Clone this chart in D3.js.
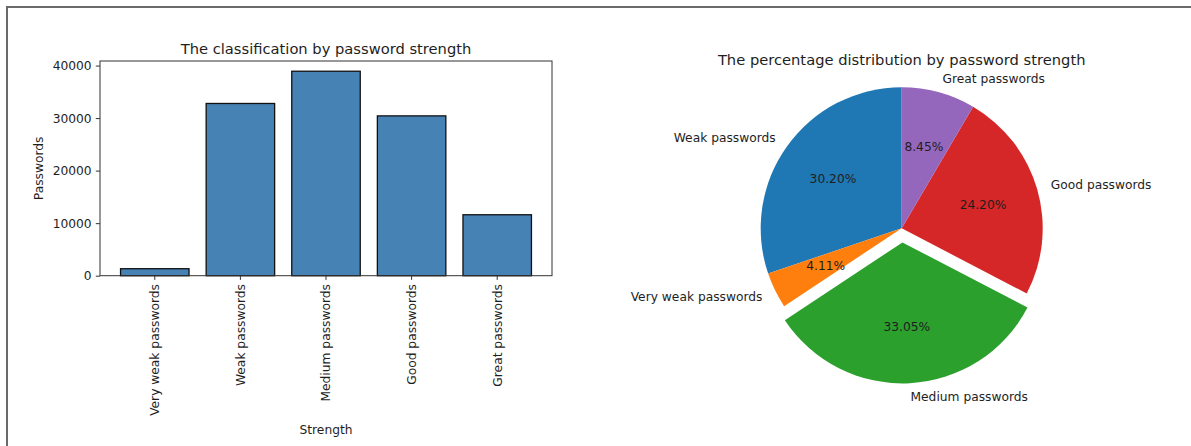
<!DOCTYPE html>
<html>
<head>
<meta charset="utf-8">
<script src="https://cdn.jsdelivr.net/npm/d3@7"></script>
<style>
  html, body { margin: 0; padding: 0; background: #fff; }
  svg { display: block; }
  text { font-family: "DejaVu Sans", sans-serif; fill: #1e1e1e; }
</style>
</head>
<body>
<svg id="chart" width="1191" height="446"></svg>
<script>
// ---- Data ----
const barCategories = ["Very weak passwords", "Weak passwords", "Medium passwords", "Good passwords", "Great passwords"];
const barValues = [1330, 32780, 38920, 30420, 11600];
const yTicks = [0, 10000, 20000, 30000, 40000];

const pieLabels = ["Weak passwords", "Very weak passwords", "Medium passwords", "Good passwords", "Great passwords"];
const piePercents = [30.20, 4.11, 33.05, 24.20, 8.45];
const pieExplode = [0, 0, 0.1, 0, 0];
const pieColors = ["#1f77b4", "#ff7f0e", "#2ca02c", "#d62728", "#9467bd"];

const FS = 12.25, TFS = 14.7;
const svg = d3.select("#chart");

// ---- Frame ----
svg.append("line").attr("x1", 6).attr("x2", 1191).attr("y1", 7).attr("y2", 7)
  .attr("stroke", "#6a6a6a").attr("stroke-width", 2);
svg.append("line").attr("x1", 7).attr("x2", 7).attr("y1", 6).attr("y2", 446)
  .attr("stroke", "#6a6a6a").attr("stroke-width", 2);

// ---- Bar chart ----
const ax = { left: 100, right: 552, top: 61, bottom: 275.7 };
const x = d3.scaleBand().domain(barCategories).range([ax.left, ax.right])
  .paddingInner(0.2).paddingOuter(0.24);
const y = d3.scaleLinear().domain([0, d3.max(barValues) * 1.05]).range([ax.bottom, ax.top]);

const gBar = svg.append("g");
gBar.selectAll("rect.bar").data(barCategories).join("rect")
  .attr("class", "bar")
  .attr("x", d => x(d))
  .attr("width", x.bandwidth())
  .attr("y", (d, i) => y(barValues[i]))
  .attr("height", (d, i) => y(0) - y(barValues[i]))
  .attr("fill", "#4682b4")
  .attr("stroke", "#111")
  .attr("stroke-width", 1.3);

const yAxis = gBar.append("g").attr("transform", `translate(${ax.left},0)`)
  .call(d3.axisLeft(y).tickValues(yTicks).tickFormat(d3.format("d")).tickSize(4.2).tickPadding(4.2));
yAxis.select(".domain").remove();
yAxis.selectAll("text").attr("font-size", FS).style("font-family", "DejaVu Sans").attr("fill", "#1e1e1e");
yAxis.selectAll("line").attr("stroke", "#333");

const xAxis = gBar.append("g").attr("transform", `translate(0,${ax.bottom})`)
  .call(d3.axisBottom(x).tickSize(4.2).tickPadding(4.2));
xAxis.select(".domain").remove();
xAxis.selectAll("line").attr("stroke", "#333");
xAxis.selectAll("text")
  .attr("font-size", FS).style("font-family", "DejaVu Sans").attr("fill", "#1e1e1e")
  .attr("transform", "rotate(-90)")
  .attr("text-anchor", "end")
  .attr("x", -8.4).attr("y", 0).attr("dy", "0.35em");

gBar.append("rect")
  .attr("x", ax.left).attr("y", ax.top)
  .attr("width", ax.right - ax.left).attr("height", ax.bottom - ax.top)
  .attr("fill", "none").attr("stroke", "#333").attr("stroke-width", 1);

gBar.append("text").attr("x", (ax.left + ax.right) / 2).attr("y", 53.5)
  .attr("text-anchor", "middle").attr("font-size", TFS)
  .text("The classification by password strength");
gBar.append("text").attr("x", (ax.left + ax.right) / 2).attr("y", 430)
  .attr("text-anchor", "middle").attr("dominant-baseline", "central").attr("font-size", FS)
  .text("Strength");
gBar.append("text")
  .attr("transform", `translate(39,${(ax.top + ax.bottom) / 2}) rotate(-90)`)
  .attr("text-anchor", "middle").attr("dominant-baseline", "central").attr("font-size", FS)
  .text("Passwords");

// ---- Pie chart ----
const cx = 901.7, cy = 228.3, R = 141;
const pie = d3.pie().sort(null).value(d => d).startAngle(0).endAngle(-2 * Math.PI);
const arcs = pie(piePercents);
const arcGen = d3.arc().innerRadius(0).outerRadius(R);

const gPie = svg.append("g").attr("transform", `translate(${cx},${cy})`);
arcs.forEach((a, i) => {
  const mid = (a.startAngle + a.endAngle) / 2;
  const ox = Math.sin(mid) * pieExplode[i] * R;
  const oy = -Math.cos(mid) * pieExplode[i] * R;
  const g = gPie.append("g").attr("transform", `translate(${ox},${oy})`);
  g.append("path").attr("d", arcGen(a)).attr("fill", pieColors[i]);
  const lx = Math.sin(mid) * 1.1 * R, ly = -Math.cos(mid) * 1.1 * R;
  g.append("text").attr("x", lx).attr("y", ly)
    .attr("text-anchor", lx > 0 ? "start" : "end")
    .attr("dominant-baseline", "central").attr("font-size", FS)
    .text(pieLabels[i]);
  const px = Math.sin(mid) * 0.6 * R, py = -Math.cos(mid) * 0.6 * R;
  g.append("text").attr("x", px).attr("y", py)
    .attr("text-anchor", "middle").attr("dominant-baseline", "central").attr("font-size", FS)
    .text(piePercents[i].toFixed(2) + "%");
});

svg.append("text").attr("x", cx).attr("y", 65)
  .attr("text-anchor", "middle").attr("font-size", TFS)
  .text("The percentage distribution by password strength");
</script>
</body>
</html>
